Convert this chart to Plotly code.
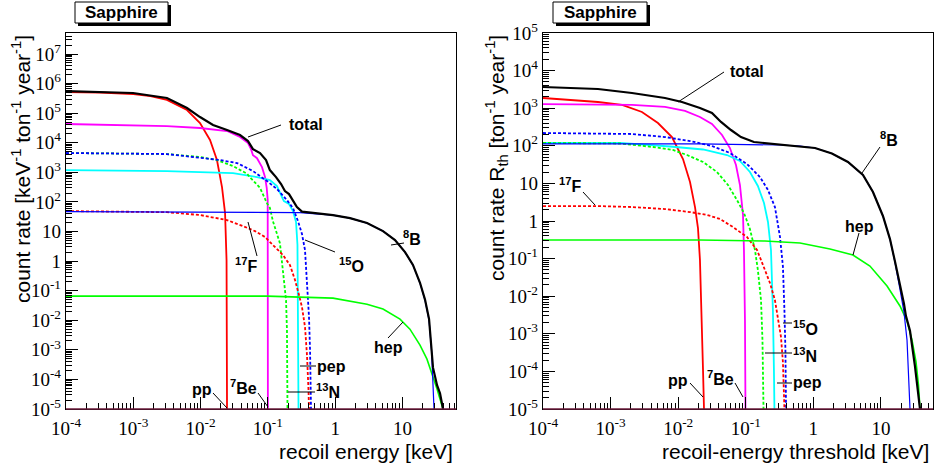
import plotly.graph_objects as go

W, H = 934, 465

# ---------------- differential rate dR/dE (left panel) ----------------
pp_L_x = [1e-4, 3.2e-4, 1e-3, 1.8e-3, 3.16e-3, 6.28e-3, 9.8e-3, 0.0138, 0.0175, 0.0208, 0.0231, 0.0243, 0.0247]
pp_L_y = [5.2e5, 5.0e5, 4.4e5, 3.8e5, 2.8e5, 1.28e5, 4.6e4, 1.24e4, 2.6e3, 318, 42, 1.07, 1e-5]

be7_L_x = [1e-4, 3.16e-3, 9.8e-3, 0.0247, 0.0385, 0.0506, 0.0561, 0.060, 0.0689, 0.0817, 0.0906, 0.096, 0.0993, 0.1]
be7_L_y = [4.3e4, 3.67e4, 3.15e4, 2.49e4, 1.56e4, 9.8e3, 6.1e3, 3.8e3, 3.0e3, 1.5e3, 692, 300, 120, 1e-5]

pep_L_x = [1e-4, 3.16e-3, 0.0303, 0.0689, 0.107, 0.1365, 0.162, 0.173, 0.206, 0.236, 0.262, 0.275, 0.285]
pep_L_y = [1.19e3, 1.1e3, 946, 692, 548, 343, 146, 107, 85, 49, 20.8, 3.5, 1e-5]

n13_L_x = [1e-4, 3.16e-3, 9.8e-3, 0.0175, 0.0303, 0.0489, 0.0541, 0.0643, 0.0764, 0.0971, 0.107, 0.119, 0.151, 0.1675, 0.186, 0.192, 0.1954]
n13_L_y = [4.5e3, 4.15e3, 3.29e3, 2.6e3, 1.63e3, 900, 680, 470, 300, 89, 63, 22, 4.0, 0.45, 0.048, 4.6e-3, 1e-5]

o15_L_x = [1e-4, 3.16e-3, 0.0194, 0.0348, 0.0601, 0.0971, 0.1365, 0.192, 0.236, 0.280, 0.321, 0.356, 0.381, 0.408, 0.423, 0.437]
o15_L_y = [4.5e3, 4.15e3, 2.6e3, 2.06e3, 1.1e3, 507, 272, 115, 62, 22.5, 8.2, 2.35, 0.18, 0.0128, 9.8e-4, 1e-5]

f17_L_x = [1e-4, 3.16e-3, 9.8e-3, 0.0247, 0.0427, 0.0643, 0.0906, 0.128, 0.1675, 0.213, 0.253, 0.290, 0.321, 0.356, 0.381, 0.401, 0.408]
f17_L_y = [49, 45, 36, 24.3, 15.2, 10.3, 6.5, 2.97, 1.6, 0.73, 0.228, 0.071, 0.0278, 5.9e-3, 6.6e-4, 4.4e-5, 1e-5]

b8_L_x = [1e-4, 9.8e-3, 0.3, 0.927, 1.66, 2.97, 5.13, 7.74, 10.9, 14.3, 18.2, 21.6, 24.8, 27.0, 28.4, 29.4]
b8_L_y = [47, 46, 43.6, 35.9, 28.4, 19.3, 10.3, 5.13, 2.01, 0.73, 0.18, 0.048, 0.0101, 9.8e-4, 9.4e-5, 1e-5]

hep_L_x = [1e-4, 0.097, 0.927, 2.97, 5.13, 9.18, 12.9, 18.2, 23.1, 27.4, 32.6, 37.3, 40.0]
hep_L_y = [0.0655, 0.0655, 0.056, 0.035, 0.0238, 0.0109, 5.0e-3, 1.44e-3, 4.85e-4, 1.63e-4, 4.7e-5, 1.7e-5, 1e-5]

tot_L_x = [1e-4, 3.2e-4, 9.9e-4, 3.16e-3, 6.28e-3, 9.8e-3, 0.0153, 0.0247, 0.0385, 0.0506, 0.060, 0.0764,
           0.0938, 0.107, 0.132, 0.157, 0.179, 0.206, 0.236, 0.270, 0.321, 0.423, 0.927, 1.66, 2.97, 5.13,
           7.74, 10.9, 14.3, 18.2, 21.6, 24.8, 28.4, 32.6, 36.1, 40.0]
tot_L_y = [5.6e5, 5.2e5, 4.8e5, 3.25e5, 1.49e5, 7.4e4, 4.0e4, 2.7e4, 1.82e4, 1.14e4, 6.1e3, 4.5e3,
           2.6e3, 1.19e3, 692, 402, 233, 184, 115, 67, 47, 43.6, 35.9, 28.4, 19.3, 10.3,
           5.13, 2.02, 0.74, 0.185, 0.05, 0.011, 2.5e-4, 6.4e-5, 3.4e-5, 1e-5]

# ---------------- integrated rate above threshold (right panel) ----------------
pp_R_x = [1e-4, 6.5e-4, 1.48e-3, 2.91e-3, 5.02e-3, 8.09e-3, 0.01178, 0.01496, 0.01774, 0.01963, 0.021, 0.0225, 0.0233, 0.0241]
pp_R_y = [1.87e3, 1.46e3, 1.22e3, 793, 404, 171, 44.6, 10.9, 2.35, 0.65, 0.092, 2.3e-3, 1.1e-4, 1e-5]

be7_R_x = [1e-4, 2.07e-3, 6.38e-3, 0.01262, 0.021, 0.0316, 0.0445, 0.0583, 0.0716, 0.082, 0.091, 0.094, 0.0973, 0.099]
be7_R_y = [1.29e3, 1.22e3, 1.08e3, 843, 583, 380, 194, 87, 30.8, 9.06, 1.45, 0.17, 2.3e-3, 1e-5]

pep_R_x = [1e-4, 1.38e-3, 7.57e-3, 0.0233, 0.0527, 0.082, 0.1153, 0.151, 0.186, 0.213, 0.236, 0.252, 0.261, 0.2655]
pep_R_y = [119, 119, 95.7, 79.8, 56.9, 39.4, 20.1, 8.53, 3.01, 0.94, 0.17, 4.3e-3, 1.1e-4, 1e-5]

n13_R_x = [1e-4, 1.38e-3, 4.24e-3, 8.38e-3, 0.0135, 0.0233, 0.0375, 0.0546, 0.0741, 0.094, 0.1153, 0.1368, 0.151, 0.168, 0.1766, 0.183]
n13_R_y = [119, 115, 92.9, 77.3, 56.9, 37.1, 20.1, 9.06, 3.62, 1.63, 0.61, 0.17, 0.05, 7.9e-3, 6.8e-4, 1e-5]

o15_R_x = [1e-4, 2.07e-3, 6.38e-3, 0.015, 0.0316, 0.0583, 0.1042, 0.162, 0.213, 0.270, 0.321, 0.355, 0.373, 0.386, 0.394]
o15_R_y = [219, 206, 171, 134, 98.9, 64.4, 32.8, 14.8, 6.67, 2.35, 0.375, 0.06, 4.3e-3, 3.7e-4, 1e-5]

f17_R_x = [1e-4, 6.5e-4, 2.07e-3, 6.38e-3, 0.015, 0.0267, 0.0415, 0.0647, 0.1042, 0.1466, 0.1795, 0.228, 0.270, 0.299, 0.332, 0.355, 0.367, 0.373]
f17_R_y = [2.5, 2.5, 2.35, 2.08, 1.73, 1.45, 1.13, 0.69, 0.375, 0.17, 0.068, 0.0224, 7.9e-3, 2.8e-3, 8.2e-4, 1.7e-4, 3.2e-5, 1e-5]

b8_R_x = [1e-4, 0.021, 0.321, 0.634, 1.057, 1.88, 3.25, 5.42, 7.62, 10.7, 13.6, 16.1, 19.1, 21.9, 24.3, 25.9, 26.9]
b8_R_y = [112, 112, 105, 98.9, 87.3, 62.4, 37.1, 16.7, 5.9, 1.36, 0.33, 0.081, 0.0155, 3.8e-3, 6.8e-4, 8.0e-5, 1e-5]

hep_R_x = [1e-4, 0.021, 0.192, 0.634, 1.76, 3.85, 6.87, 12.3, 19.1, 24.3, 28.8, 33.0, 35.9, 37.8]
hep_R_y = [0.313, 0.313, 0.294, 0.26, 0.18, 0.125, 0.0635, 0.0187, 5.5e-3, 2.19e-3, 6.8e-4, 1.78e-4, 4.3e-5, 1e-5]

tot_R_x = [1e-4, 6.5e-4, 2.07e-3, 6.38e-3, 0.01138, 0.021, 0.0316, 0.043, 0.0604, 0.0849, 0.132, 0.244, 0.592,
           1.057, 1.88, 3.25, 5.42, 7.62, 10.7, 13.6, 16.1, 19.1, 21.9, 23.4, 26.9, 31.8, 35.2, 37.8]
tot_R_y = [3.66e3, 3.24e3, 2.54e3, 1.87e3, 1.46e3, 1.01e3, 745, 430, 263, 171, 126, 112, 98.9,
           87.3, 62.4, 37.1, 16.7, 5.9, 1.36, 0.33, 0.085, 0.021, 6.3e-3, 3.0e-3, 1.2e-3, 1.4e-4, 3.6e-5, 1e-5]

# ---------------- axis ticks ----------------
x_tickvals = [1e-4, 1e-3, 1e-2, 1e-1, 1, 10]
x_ticktext = ["10<sup>-4</sup>", "10<sup>-3</sup>", "10<sup>-2</sup>", "10<sup>-1</sup>", "1", "10"]
yL_tickvals = [10.0 ** k for k in range(-5, 8)]
yL_ticktext = ["10<sup>-5</sup>", "10<sup>-4</sup>", "10<sup>-3</sup>", "10<sup>-2</sup>", "10<sup>-1</sup>", "1", "10",
               "10<sup>2</sup>", "10<sup>3</sup>", "10<sup>4</sup>", "10<sup>5</sup>", "10<sup>6</sup>", "10<sup>7</sup>"]
yR_tickvals = [10.0 ** k for k in range(-5, 6)]
yR_ticktext = ["10<sup>-5</sup>", "10<sup>-4</sup>", "10<sup>-3</sup>", "10<sup>-2</sup>", "10<sup>-1</sup>", "1", "10",
               "10<sup>2</sup>", "10<sup>3</sup>", "10<sup>4</sup>", "10<sup>5</sup>"]


def minor_positions(k_lo, k_hi):
    # 2..9 times each power of ten
    return [m * 10.0 ** k for k in range(k_lo, k_hi + 1) for m in range(2, 10)]


RED, MAG, CYAN, GREEN, BLUE = "#ff0000", "#ff00ff", "#00ffff", "#00ff00", "#0000ff"
DASH = "3px,2px"

# (x, y, colour, width, dash) for each source, drawn in this order
left_series = [
    (pp_L_x, pp_L_y, RED, 1.8, "solid"),
    (be7_L_x, be7_L_y, MAG, 1.8, "solid"),
    (pep_L_x, pep_L_y, CYAN, 1.8, "solid"),
    (n13_L_x, n13_L_y, GREEN, 1.8, DASH),
    (o15_L_x, o15_L_y, BLUE, 1.8, DASH),
    (f17_L_x, f17_L_y, RED, 1.8, DASH),
    (hep_L_x, hep_L_y, GREEN, 1.6, "solid"),
    (b8_L_x, b8_L_y, BLUE, 1.2, "solid"),
    (tot_L_x, tot_L_y, "#000000", 2.2, "solid"),
]
right_series = [
    (pp_R_x, pp_R_y, RED, 1.8, "solid"),
    (be7_R_x, be7_R_y, MAG, 1.8, "solid"),
    (pep_R_x, pep_R_y, CYAN, 1.8, "solid"),
    (n13_R_x, n13_R_y, GREEN, 1.8, DASH),
    (o15_R_x, o15_R_y, BLUE, 1.8, DASH),
    (f17_R_x, f17_R_y, RED, 1.8, DASH),
    (hep_R_x, hep_R_y, GREEN, 1.6, "solid"),
    (b8_R_x, b8_R_y, BLUE, 1.2, "solid"),
    (tot_R_x, tot_R_y, "#000000", 2.2, "solid"),
]

fig = go.Figure()
for xs, ys, col, w, dash in left_series:
    fig.add_trace(go.Scatter(x=xs, y=ys, mode="lines", xaxis="x", yaxis="y",
                             line=dict(color=col, width=w, dash=dash), showlegend=False, hoverinfo="skip"))
for xs, ys, col, w, dash in right_series:
    fig.add_trace(go.Scatter(x=xs, y=ys, mode="lines", xaxis="x2", yaxis="y2",
                             line=dict(color=col, width=w, dash=dash), showlegend=False, hoverinfo="skip"))


def px(x):
    return x / W


def py(y):
    return 1 - y / H


SANS = "Liberation Sans, Arial, sans-serif"
SERIF = "Liberation Serif, Times New Roman, serif"

# plot frames (pixels)
L_BOX = (66, 456)
R_BOX = (543, 933)
Y_BOX = (33, 409)

axis_common = dict(type="log", showgrid=False, zeroline=False, showline=True, linecolor="black",
                   linewidth=1.4, mirror=True, ticks="inside", ticklen=12, tickwidth=1, tickcolor="black",
                   tickfont=dict(family=SERIF, size=19, color="black"), automargin=False)


def minor(vals):
    return dict(ticks="inside", ticklen=6, tickwidth=1, tickcolor="black", showgrid=False,
                tickmode="array", tickvals=vals)


fig.update_layout(
    width=W, height=H, margin=dict(l=0, r=0, t=0, b=0),
    paper_bgcolor="white", plot_bgcolor="white",
    xaxis=dict(axis_common, domain=[px(L_BOX[0]), px(L_BOX[1])], range=[-4, 1.795],
               tickvals=x_tickvals, ticktext=x_ticktext, anchor="y", ticklabelstandoff=2,
               minor=minor(minor_positions(-4, 1))),
    yaxis=dict(axis_common, domain=[py(Y_BOX[1]), py(Y_BOX[0])], range=[-5, 7.71],
               tickvals=yL_tickvals, ticktext=yL_ticktext, anchor="x",
               minor=minor(minor_positions(-5, 7))),
    xaxis2=dict(axis_common, domain=[px(R_BOX[0]), px(R_BOX[1])], range=[-4, 1.77],
                tickvals=x_tickvals, ticktext=x_ticktext, anchor="y2", ticklabelstandoff=2,
                minor=minor(minor_positions(-4, 1))),
    yaxis2=dict(axis_common, domain=[py(Y_BOX[1]), py(Y_BOX[0])], range=[-5, 5],
                tickvals=yR_tickvals, ticktext=yR_ticktext, anchor="x2",
                minor=minor(minor_positions(-5, 4))),
)

shapes = []
annotations = []


def add_text(text, x, y, size=16, bold=True, xanchor="center", yanchor="middle", angle=0, family=SANS):
    annotations.append(dict(text=("<b>%s</b>" % text) if bold else text, x=px(x), y=py(y),
                            xref="paper", yref="paper", showarrow=False, xanchor=xanchor, yanchor=yanchor,
                            textangle=angle, font=dict(family=family, size=size, color="black")))


def add_line(x0, y0, x1, y1, color="black", width=1):
    shapes.append(dict(type="line", xref="paper", yref="paper", x0=px(x0), y0=py(y0), x1=px(x1), y1=py(y1),
                       line=dict(color=color, width=width)))


# title boxes with drop shadow
for bx0, bx1 in [(75, 168), (553, 647)]:
    shapes.append(dict(type="rect", xref="paper", yref="paper", x0=px(bx0 + 3), x1=px(bx1 + 3),
                       y0=py(26), y1=py(5), fillcolor="black", line=dict(width=0)))
    shapes.append(dict(type="rect", xref="paper", yref="paper", x0=px(bx0), x1=px(bx1),
                       y0=py(23), y1=py(2), fillcolor="white", line=dict(color="black", width=1)))
    add_text("Sapphire", (bx0 + bx1) / 2, 13, size=17)

# axis titles
add_text("count rate [keV<sup>-1</sup> ton<sup>-1</sup> year<sup>-1</sup>]", 21, 33, size=21, bold=False,
         yanchor="top", angle=-90)
add_text("count rate R<sub>th</sub> [ton<sup>-1</sup> year<sup>-1</sup>]", 497, 33, size=21, bold=False,
         yanchor="top", angle=-90)
add_text("recoil energy [keV]", 455, 451, size=21, bold=False, xanchor="right")
add_text("recoil-energy threshold [keV]", 931, 451, size=21, bold=False, xanchor="right")

# source labels, left panel
left_labels = [
    ("total", 306, 125, (248, 137, 281, 125)),
    ("<sup>8</sup>B", 412, 238, (391, 245, 404, 243)),
    ("<sup>17</sup>F", 246, 265, (248, 222, 257, 256)),
    ("<sup>15</sup>O", 351, 265, (305, 240, 335, 252)),
    ("hep", 388, 347, (388, 338, 403, 322)),
    ("pep", 331, 366, (300, 366, 316, 366)),
    ("<sup>13</sup>N", 328, 391, (288, 392, 315, 392)),
    ("pp", 202, 389, (213, 393, 227, 408)),
    ("<sup>7</sup>Be", 243, 387, (258, 393, 268, 407)),
]
# source labels, right panel
right_labels = [
    ("total", 747, 72, (678, 102, 724, 72)),
    ("<sup>8</sup>B", 889, 139, (862, 173, 880, 147)),
    ("hep", 859, 226, (853, 255, 859, 233)),
    ("<sup>17</sup>F", 570, 185, (583, 192, 595, 205)),
    ("<sup>15</sup>O", 805, 328, (783, 323, 792, 323)),
    ("<sup>13</sup>N", 805, 355, (765, 353, 792, 353)),
    ("pep", 807, 382, (777, 383, 792, 383)),
    ("pp", 678, 380, (690, 383, 703, 397)),
    ("<sup>7</sup>Be", 720, 378, (735, 383, 743, 397)),
]
for text, tx, ty, (x0, y0, x1, y1) in left_labels + right_labels:
    add_text(text, tx, ty, size=16)
    add_line(x0, y0, x1, y1)

# curves that have ended sit on the lower frame edge
for x0, x1 in [L_BOX, R_BOX]:
    add_line(x0, Y_BOX[1], x1, Y_BOX[1], color="#6a1a3a", width=1.6)

fig.update_layout(shapes=shapes, annotations=annotations)
fig.write_html("out.html")
